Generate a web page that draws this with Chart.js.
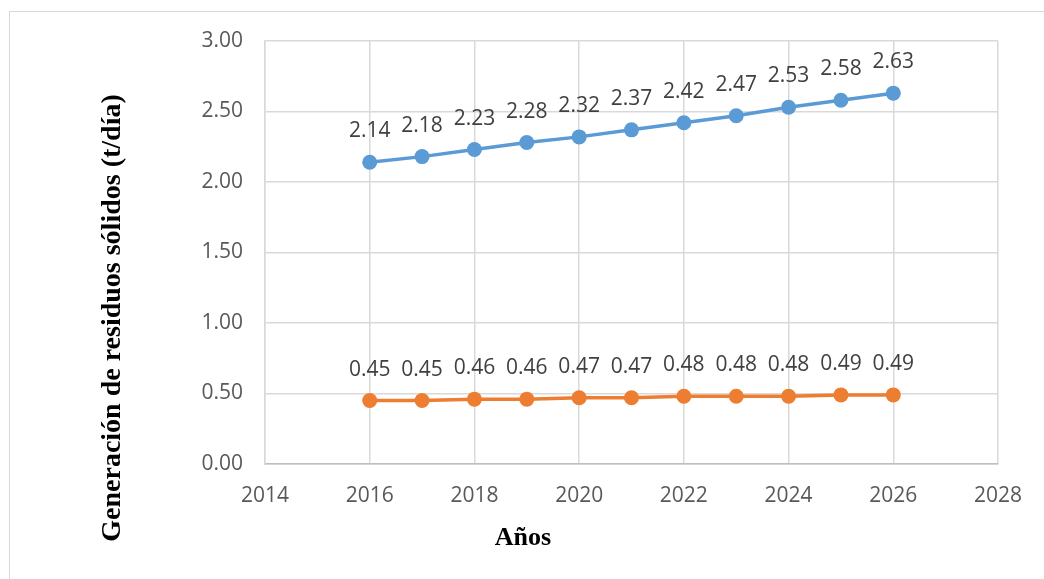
<!DOCTYPE html>
<html lang="es">
<head>
<meta charset="utf-8">
<title>Generación de residuos sólidos</title>
<script src="https://cdn.jsdelivr.net/npm/chart.js@4.4.1/dist/chart.umd.min.js"></script>
<style>
  html, body { margin: 0; padding: 0; background: #fff; }
  #marco { position: relative; width: 1044px; height: 579px; overflow: hidden; }
  #borde { position: absolute; left: 9px; top: 11px; right: -5px; bottom: -5px;
           border-top: 1.5px solid #d9d9d9; border-left: 1.5px solid #d9d9d9; }
  #grafico { position: absolute; left: 0; top: 0; }
</style>
</head>
<body>
<div id="marco">
  <div id="borde"></div>
  <canvas id="grafico" width="1044" height="579"></canvas>
</div>
<script>
/* Datos: años y generación (t/día) */
const anios = [2016, 2017, 2018, 2019, 2020, 2021, 2022, 2023, 2024, 2025, 2026];
const serieAzul = [2.14, 2.18, 2.23, 2.28, 2.32, 2.37, 2.42, 2.47, 2.53, 2.58, 2.63];
const serieNaranja = [0.45, 0.45, 0.46, 0.46, 0.47, 0.47, 0.48, 0.48, 0.48, 0.49, 0.49];

const tituloY = 'Generación de residuos sólidos (t/día)';
const tituloX = 'Años';

const colorAzul = '#5b9bd5';
const colorNaranja = '#ed7d31';
const colorRejilla = '#d9d9d9';
const colorTexto = '#595959';

const puntos = (valores) => anios.map((a, i) => ({ x: a, y: valores[i] }));

/* Etiquetas de valor encima de cada punto */
const etiquetas = {
  id: 'etiquetas',
  afterDatasetsDraw(chart) {
    const ctx = chart.ctx;
    ctx.save();
    ctx.font = '21px "Open Sans"';
    ctx.fillStyle = '#404040';
    ctx.textAlign = 'center';
    ctx.textBaseline = 'middle';
    chart.data.datasets.forEach((ds, i) => {
      chart.getDatasetMeta(i).data.forEach((p, j) => {
        ctx.fillText(ds.data[j].y.toFixed(2), p.x, p.y - 31);
      });
    });
    ctx.restore();
  }
};

/* Títulos de los ejes */
const titulos = {
  id: 'titulos',
  afterDraw(chart) {
    const ctx = chart.ctx;
    ctx.save();
    ctx.fillStyle = '#000';
    ctx.textAlign = 'center';
    ctx.textBaseline = 'middle';
    ctx.font = 'bold 26px "Liberation Serif"';
    ctx.fillText(tituloX, 523, 538);
    ctx.font = 'bold 28px "Liberation Serif"';
    ctx.translate(113, 318);
    ctx.rotate(-Math.PI / 2);
    ctx.fillText(tituloY, 0, 0);
    ctx.restore();
  }
};

const ctx = document.getElementById('grafico').getContext('2d');
new Chart(ctx, {
  type: 'scatter',
  data: {
    datasets: [
      {
        data: puntos(serieAzul),
        showLine: true,
        borderColor: colorAzul,
        backgroundColor: colorAzul,
        borderWidth: 3.5,
        pointRadius: 7.5,
        pointHoverRadius: 7.5,
        pointBorderWidth: 0
      },
      {
        data: puntos(serieNaranja),
        showLine: true,
        borderColor: colorNaranja,
        backgroundColor: colorNaranja,
        borderWidth: 3.5,
        pointRadius: 7.5,
        pointHoverRadius: 7.5,
        pointBorderWidth: 0
      }
    ]
  },
  options: {
    responsive: false,
    animation: false,
    layout: { padding: { top: 41, right: 46, left: 0, bottom: 0 } },
    plugins: {
      legend: { display: false },
      tooltip: { enabled: false }
    },
    scales: {
      x: {
        type: 'linear',
        min: 2014,
        max: 2028,
        afterFit: (s) => { s.height = 115; },
        ticks: {
          stepSize: 2,
          padding: 19,
          color: colorTexto,
          font: { family: 'Open Sans', size: 21 },
          callback: (v) => String(v)
        },
        grid: { color: colorRejilla, lineWidth: 1.5, drawTicks: false },
        border: { color: '#bfbfbf', width: 1.5 }
      },
      y: {
        min: 0,
        max: 3,
        afterFit: (s) => { s.width = 265; },
        ticks: {
          stepSize: 0.5,
          padding: 22,
          color: colorTexto,
          font: { family: 'Open Sans', size: 21 },
          callback: (v) => v.toFixed(2)
        },
        grid: { color: colorRejilla, lineWidth: 1.5, drawTicks: false },
        border: { color: colorRejilla, width: 1.5 }
      }
    }
  },
  plugins: [etiquetas, titulos]
});
</script>
</body>
</html>
